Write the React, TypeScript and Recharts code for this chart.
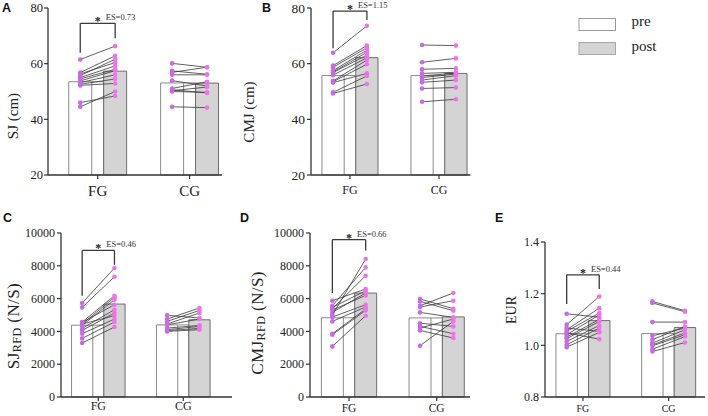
import React from 'react';
import { ComposedChart, XAxis, YAxis, Scatter, ReferenceArea, ReferenceLine, ReferenceDot } from 'recharts';

const GROUPS = ['FG', 'CG'];

// SJ (cm)
const sjFgPre = [61.5, 56.8, 56.3, 55.7, 55.0, 54.5, 53.8, 53.2, 52.6, 52.2, 46.0, 44.5];
const sjFgPost = [66.3, 62.8, 60.4, 61.6, 59.2, 58.0, 57.5, 56.0, 54.5, 52.9, 48.4, 50.0];
const sjCgPre = [60.1, 57.4, 56.9, 56.0, 53.9, 51.1, 50.6, 50.3, 50.0, 44.5];
const sjCgPost = [58.7, 56.2, 58.7, 56.0, 52.0, 53.5, 49.5, 51.6, 49.7, 44.2];

// CMJ (cm)
const cmjFgPre = [63.9, 59.3, 58.7, 57.5, 57.0, 56.8, 55.9, 53.8, 53.5, 53.2, 49.7, 49.3];
const cmjFgPost = [73.6, 66.5, 65.7, 64.9, 64.1, 63.1, 62.1, 61.3, 59.8, 56.5, 55.6, 52.7];
const cmjCgPre = [66.7, 60.5, 58.0, 56.5, 55.6, 55.0, 54.1, 53.3, 51.1, 46.3];
const cmjCgPost = [66.5, 61.9, 58.3, 56.9, 56.6, 56.3, 55.7, 54.1, 51.4, 47.2];

// SJ RFD (N/S)
const sjRfdFgPre = [5732, 5464, 4573, 4452, 4366, 4550, 4183, 4061, 4450, 3860, 3573, 3293];
const sjRfdFgPost = [7866, 7336, 6177, 6074, 5933, 5628, 5323, 5122, 4958, 4756, 4573, 4268];
const sjRfdCgPre = [4980, 4756, 4611, 4400, 4452, 4200, 4104, 4050, 4000];
const sjRfdCgPost = [4817, 5427, 5281, 4756, 5122, 4366, 4305, 4183, 4104];

// CMJ RFD (N/S)
const cmjRfdFgPre = [5872, 5567, 5464, 5384, 5300, 5159, 5000, 4878, 4611, 3860, 3799, 3086];
const cmjRfdFgPost = [6586, 7903, 6482, 7397, 6196, 6342, 8415, 5628, 5488, 5366, 5281, 4958];
const cmjRfdCgPre = [5976, 5830, 5567, 5488, 5159, 4500, 4305, 4208, 4061, 3128];
const cmjRfdCgPost = [5384, 5262, 6342, 5872, 4854, 4305, 3860, 4756, 3598, 4611];

// EUR
const eurFgPre = [1.122, 1.08, 1.067, 1.06, 1.054, 1.048, 1.041, 1.032, 1.026, 1.015, 1.002, 0.993];
const eurFgPost = [1.109, 1.189, 1.054, 1.144, 1.125, 1.024, 1.118, 1.1, 1.092, 1.077, 1.067, 1.05];
const eurCgPre = [1.17, 1.164, 1.09, 1.037, 1.022, 1.009, 1.002, 0.998, 0.985, 0.976];
const eurCgPost = [1.134, 1.13, 1.09, 1.067, 1.073, 1.06, 1.048, 1.041, 1.034, 1.011];

const EFFECT_SIZES = ['0.73', '1.15', '0.46', '0.66', '0.44'];

const SERIF = '"Liberation Serif", "Times New Roman", serif';
const SANS = '"Liberation Sans", Arial, sans-serif';
const PRE_DOT = '#c66ae6';
const POST_DOT = '#ef72ec';
const LINK = '#383838';
const AXIS = '#333';

// pre/post offset from group centre and bar width, in x units
const D = 0.19;
const BW = 0.25;
const YW = 50;
const MT = 30;
const MR = 4;
const XH = 26;

type Group = { pre: number[]; post: number[] };

type Panel = {
  groups: Group[];
  es: string;
  bracket: [number, number, number];
  axisX: number;
  top: number;
  plotW: number;
  plotH: number;
  xDomain: [number, number];
  yDomain: [number, number];
  yTicks: number[];
  fmt?: (v: number) => string;
  yFont: number;
  xFont: number;
  xGap: number;
  yGap: number;
};

const mean = (a: number[]) => a.reduce((s, v) => s + v, 0) / a.length;

const PANELS: Panel[] = [
  {
    groups: [{ pre: sjFgPre, post: sjFgPost }, { pre: sjCgPre, post: sjCgPost }],
    es: EFFECT_SIZES[0], bracket: [74.5, 63.9, 69.1],
    axisX: 48, top: 8, plotW: 174, plotH: 167, xDomain: [0.459, 2.353],
    yDomain: [20, 80], yTicks: [20, 40, 60, 80], yFont: 12.5, xFont: 15, xGap: 6, yGap: 1,
  },
  {
    groups: [{ pre: cmjFgPre, post: cmjFgPost }, { pre: cmjCgPre, post: cmjCgPost }],
    es: EFFECT_SIZES[1], bracket: [78.9, 65.5, 75.7],
    axisX: 310.7, top: 8, plotW: 159.3, plotH: 167, xDomain: [0.562, 2.352],
    yDomain: [20, 80], yTicks: [20, 40, 60, 80], yFont: 13.5, xFont: 12, xGap: 6, yGap: 2,
  },
  {
    groups: [{ pre: sjRfdFgPre, post: sjRfdFgPost }, { pre: sjRfdCgPre, post: sjRfdCgPost }],
    es: EFFECT_SIZES[2], bracket: [8939, 6177, 8067],
    axisX: 61, top: 233.3, plotW: 171, plotH: 164, xDomain: [0.561, 2.573],
    yDomain: [0, 10000], yTicks: [0, 2000, 4000, 6000, 8000, 10000], yFont: 12, xFont: 12, xGap: 0, yGap: 2,
  },
  {
    groups: [{ pre: cmjRfdFgPre, post: cmjRfdFgPost }, { pre: cmjRfdCgPre, post: cmjRfdCgPost }],
    es: EFFECT_SIZES[3], bracket: [9591, 6341, 8939],
    axisX: 310, top: 233.3, plotW: 160, plotH: 164, xDomain: [0.555, 2.38],
    yDomain: [0, 10000], yTicks: [0, 2000, 4000, 6000, 8000, 10000], yFont: 12, xFont: 11.5, xGap: 3, yGap: 2,
  },
  {
    groups: [{ pre: eurFgPre, post: eurFgPost }, { pre: eurCgPre, post: eurCgPost }],
    es: EFFECT_SIZES[4], bracket: [1.273, 1.16, 1.218],
    axisX: 545, top: 242.3, plotW: 160, plotH: 155, xDomain: [0.557, 2.424],
    yDomain: [0.8, 1.4], yTicks: [0.8, 1.0, 1.2, 1.4], fmt: (v) => v.toFixed(1), yFont: 12, xFont: 10, xGap: 4, yGap: 2,
  },
];

const dotShape = (props: any) => (
  <circle cx={props.cx} cy={props.cy} r={2.3} fill={props.payload.c} />
);

const esLabel = (es: string) => (props: any) => {
  const { x, y } = props.viewBox;
  return (
    <g>
      <text x={x} y={y + 2} textAnchor="middle" fontSize={12} fontWeight="bold" fill="#222" fontFamily={SERIF}>*</text>
      <text x={x + 8} y={y - 3} fontSize={8.5} fill="#333" fontFamily={SERIF}>{`ES=${es}`}</text>
    </g>
  );
};

const PairedChart = ({ p }: { p: Panel }) => {
  const y0 = p.yDomain[0];
  const width = YW + p.plotW + MR;
  const height = MT + p.plotH + XH;
  const [bTop, bLeft, bRight] = p.bracket;

  return (
    <div style={{ position: 'absolute', left: p.axisX - YW, top: p.top - MT, width, height }}>
      <ComposedChart width={width} height={height} margin={{ top: MT, right: MR, bottom: 0, left: 0 }}>
        <XAxis
          type="number"
          dataKey="x"
          domain={p.xDomain}
          allowDataOverflow
          ticks={[1, 2]}
          interval={0}
          tickFormatter={(v) => GROUPS[Math.round(v) - 1]}
          height={XH}
          tickSize={4}
          tickMargin={p.xGap}
          axisLine={{ stroke: AXIS, strokeWidth: 1.3 }}
          tickLine={{ stroke: AXIS, strokeWidth: 1.2 }}
          tick={{ fontSize: p.xFont, fill: '#222', fontFamily: SERIF }}
        />
        <YAxis
          type="number"
          dataKey="y"
          domain={p.yDomain}
          allowDataOverflow
          ticks={p.yTicks}
          interval={0}
          tickFormatter={p.fmt}
          width={YW}
          tickSize={4}
          tickMargin={p.yGap}
          axisLine={{ stroke: AXIS, strokeWidth: 1.3 }}
          tickLine={{ stroke: AXIS, strokeWidth: 1.2 }}
          tick={{ fontSize: p.yFont, fill: '#222', fontFamily: SERIF }}
        />
        {p.groups.map((g, gi) => {
          const c = gi + 1;
          return (
            <React.Fragment key={`bars-${gi}`}>
              <ReferenceArea
                x1={c - D - BW / 2}
                x2={c + D - BW / 2}
                y1={y0}
                y2={mean(g.pre)}
                fill="#ffffff"
                fillOpacity={1}
                stroke="#8a8a8a"
                strokeWidth={1}
              />
              <ReferenceLine
                segment={[{ x: c - D + BW / 2, y: y0 }, { x: c - D + BW / 2, y: mean(g.pre) }]}
                stroke="#8a8a8a"
                strokeWidth={1}
              />
              <ReferenceArea
                x1={c + D - BW / 2}
                x2={c + D + BW / 2}
                y1={y0}
                y2={mean(g.post)}
                fill="#d4d4d4"
                fillOpacity={1}
                stroke="#6e6e6e"
                strokeWidth={1}
              />
            </React.Fragment>
          );
        })}
        <ReferenceLine segment={[{ x: 1 - D, y: bLeft }, { x: 1 - D, y: bTop }]} stroke="#3a3a3a" strokeWidth={1.3} ifOverflow="visible" />
        <ReferenceLine segment={[{ x: 1 - D, y: bTop }, { x: 1 + D, y: bTop }]} stroke="#3a3a3a" strokeWidth={1.3} ifOverflow="visible" />
        <ReferenceLine segment={[{ x: 1 + D, y: bTop }, { x: 1 + D, y: bRight }]} stroke="#3a3a3a" strokeWidth={1.3} ifOverflow="visible" />
        <ReferenceDot x={1} y={bTop} r={0} ifOverflow="visible" label={esLabel(p.es)} />
        {p.groups.map((g, gi) =>
          g.pre.map((v, i) => (
            <Scatter
              key={`s-${gi}-${i}`}
              data={[
                { x: gi + 1 - D, y: v, c: PRE_DOT },
                { x: gi + 1 + D, y: g.post[i], c: POST_DOT },
              ]}
              line={{ stroke: LINK, strokeWidth: 0.8 }}
              shape={dotShape}
              isAnimationActive={false}
            />
          ))
        )}
      </ComposedChart>
    </div>
  );
};

type YLabelProps = { x: number; y: number; main: string; sub?: string; rest?: string; size?: number; spacing?: number };

const YLabel = ({ x, y, main, sub, rest = '', size = 15, spacing = 0 }: YLabelProps) => (
  <text
    transform={`rotate(-90 ${x} ${y})`}
    x={x}
    y={y}
    textAnchor="middle"
    dominantBaseline="central"
    fontSize={size}
    letterSpacing={spacing}
    fill="#222"
    fontFamily={SERIF}
  >
    {main}
    {sub && (
      <tspan fontSize={size * 0.72} dy={4}>
        {sub}
      </tspan>
    )}
    {sub ? <tspan dy={-4}>{rest}</tspan> : rest}
  </text>
);

const App: React.FC = () => {
  return (
    <div style={{ position: 'absolute', left: 0, top: 0, width: 708, height: 416, background: '#fff', overflow: 'hidden' }}>
      {PANELS.map((p, i) => (
        <PairedChart key={i} p={p} />
      ))}
      <svg width={708} height={416} style={{ position: 'absolute', left: 0, top: 0, pointerEvents: 'none' }}>
        <g fontFamily={SANS} fontWeight="bold" fontSize={12.5} fill="#111">
          <text x={2} y={12}>A</text>
          <text x={262} y={12}>B</text>
          <text x={3} y={222}>C</text>
          <text x={240} y={222}>D</text>
          <text x={495} y={222}>E</text>
        </g>
        <YLabel x={13} y={116} main="SJ (cm)" size={15} />
        <YLabel x={249} y={112} main="CMJ (cm)" size={15} />
        <YLabel x={13} y={326} main="SJ" sub="RFD" rest=" (N/S)" size={17} spacing={0.4} />
        <YLabel x={257} y={323} main="CMJ" sub="RFD" rest=" (N/S)" size={17} spacing={0.4} />
        <YLabel x={511} y={310} main="EUR" size={14} />
        <rect x={579} y={18.5} width={36.5} height={12} fill="#fff" stroke="#9a9a9a" strokeWidth={1} />
        <rect x={579} y={42.5} width={36.5} height={12} fill="#d4d4d4" stroke="#a8a8a8" strokeWidth={1} />
        <text x={631.5} y={25.5} fontSize={15} fill="#222" fontFamily={SERIF}>pre</text>
        <text x={631.5} y={50.5} fontSize={15} fill="#222" fontFamily={SERIF}>post</text>
      </svg>
    </div>
  );
};

export default App;
